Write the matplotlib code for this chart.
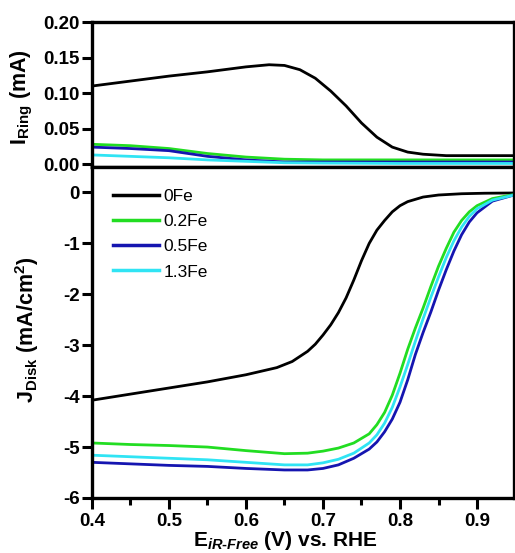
import matplotlib
matplotlib.use("Agg")
import matplotlib.pyplot as plt
from matplotlib.ticker import MultipleLocator

plt.rcParams['font.family'] = ['Liberation Sans', 'DejaVu Sans']
plt.rcParams['font.weight'] = 'bold'
plt.rcParams['axes.unicode_minus'] = False
plt.rcParams['mathtext.fontset'] = 'custom'
plt.rcParams['mathtext.rm'] = 'Liberation Sans:bold'
plt.rcParams['mathtext.bf'] = 'Liberation Sans:bold'
plt.rcParams['mathtext.it'] = 'Liberation Sans:bold:italic'
plt.rcParams['mathtext.default'] = 'rm'

# ring current (mA)
ring_x_0fe = [0.40, 0.45, 0.50, 0.55, 0.60, 0.63, 0.65, 0.67, 0.69, 0.71, 0.73,
              0.75, 0.77, 0.79, 0.81, 0.83, 0.86, 0.90, 0.948]
ring_0fe = [0.110, 0.117, 0.124, 0.130, 0.137, 0.140, 0.139, 0.133, 0.121, 0.103,
            0.082, 0.058, 0.038, 0.024, 0.017, 0.014, 0.012, 0.012, 0.012]
ring_x_fe = [0.40, 0.45, 0.50, 0.55, 0.60, 0.65, 0.70, 0.80, 0.948]
ring_02fe = [0.028, 0.026, 0.022, 0.015, 0.010, 0.007, 0.006, 0.006, 0.006]
ring_05fe = [0.024, 0.022, 0.019, 0.011, 0.006, 0.003, 0.003, 0.003, 0.003]
ring_13fe = [0.013, 0.011, 0.009, 0.006, 0.004, 0.002, 0.0015, 0.001, 0.001]

# disk current density (mA/cm2)
disk_x_0fe = [0.40, 0.45, 0.50, 0.55, 0.60, 0.64, 0.66, 0.68, 0.69, 0.70, 0.71,
              0.72, 0.73, 0.74, 0.75, 0.76, 0.77, 0.78, 0.79, 0.80, 0.81, 0.83,
              0.85, 0.88, 0.91, 0.948]
disk_0fe = [-4.08, -3.96, -3.84, -3.72, -3.58, -3.44, -3.32, -3.12, -2.98, -2.80,
            -2.60, -2.36, -2.07, -1.72, -1.34, -1.00, -0.74, -0.55, -0.38, -0.26,
            -0.18, -0.09, -0.05, -0.025, -0.015, -0.01]
disk_x_fe = [0.40, 0.45, 0.50, 0.55, 0.60, 0.65, 0.68, 0.70, 0.72, 0.74, 0.76,
             0.77, 0.78, 0.79, 0.80, 0.81, 0.82, 0.83, 0.84, 0.85, 0.86, 0.87,
             0.88, 0.89, 0.90, 0.92, 0.948]
disk_02fe = [-4.92, -4.95, -4.97, -5.00, -5.07, -5.13, -5.12, -5.08, -5.02, -4.92,
             -4.74, -4.56, -4.32, -3.98, -3.55, -3.08, -2.66, -2.27, -1.85, -1.45,
             -1.10, -0.78, -0.55, -0.38, -0.26, -0.12, -0.04]
disk_05fe = [-5.30, -5.33, -5.36, -5.38, -5.42, -5.45, -5.45, -5.42, -5.35, -5.22,
             -5.04, -4.90, -4.70, -4.45, -4.12, -3.68, -3.18, -2.75, -2.35, -1.92,
             -1.52, -1.15, -0.83, -0.58, -0.40, -0.17, -0.05]
disk_13fe = [-5.16, -5.19, -5.22, -5.25, -5.30, -5.35, -5.35, -5.31, -5.24, -5.12,
             -4.92, -4.76, -4.53, -4.22, -3.82, -3.38, -2.92, -2.48, -2.06, -1.66,
             -1.28, -0.95, -0.68, -0.47, -0.32, -0.15, -0.05]

labels = ['0Fe', '0.2Fe', '0.5Fe', '1.3Fe']
colors = ['black', '#22dd22', '#1515b0', '#30e4f4']

fig = plt.figure(figsize=(5.15, 5.53), dpi=100)
ax1 = fig.add_axes([0.1786, 0.698, 0.8194, 0.262])
ax2 = fig.add_axes([0.1786, 0.0995, 0.8194, 0.5985])

lw = 2.0
ax1.plot(ring_x_0fe, ring_0fe, color=colors[0], lw=lw)
ax1.plot(ring_x_fe, ring_02fe, color=colors[1], lw=lw)
ax1.plot(ring_x_fe, ring_05fe, color=colors[2], lw=lw)
ax1.plot(ring_x_fe, ring_13fe, color=colors[3], lw=lw)

ax2.plot(disk_x_0fe, disk_0fe, color=colors[0], lw=lw, label=labels[0])
ax2.plot(disk_x_fe, disk_02fe, color=colors[1], lw=lw, label=labels[1])
ax2.plot(disk_x_fe, disk_05fe, color=colors[2], lw=lw, label=labels[2])
ax2.plot(disk_x_fe, disk_13fe, color=colors[3], lw=lw, label=labels[3])

tick_fs = 13.5
for ax in (ax1, ax2):
    ax.set_xlim(0.4, 0.948)
    for s in ax.spines.values():
        s.set_linewidth(2.4)
    ax.tick_params(axis='y', direction='out', length=7, width=2.2, labelsize=tick_fs, pad=2)

ax1.set_ylim(-0.004, 0.2)
ax1.set_yticks([0, 0.05, 0.10, 0.15, 0.20], ['0.00', '0.05', '0.10', '0.15', '0.20'])
ax1.tick_params(axis='x', bottom=False, labelbottom=False)

ax2.set_ylim(-6, 0.5)
ax2.set_yticks([0, -1, -2, -3, -4, -5, -6])
ax2.xaxis.set_minor_locator(MultipleLocator(0.05))
ax2.set_xticks([0.4, 0.5, 0.6, 0.7, 0.8, 0.9], ['0.4', '0.5', '0.6', '0.7', '0.8', '0.9'])
ax2.tick_params(axis='x', which='major', direction='out', length=8, width=2.2,
                labelsize=tick_fs, pad=3)
ax2.tick_params(axis='x', which='minor', direction='out', length=5, width=2.2)

leg = ax2.legend(loc='upper left', bbox_to_anchor=(0.02, 0.971), frameon=False,
                 prop={'size': 12.5, 'weight': 'normal'}, handlelength=2.7,
                 handletextpad=0.25, labelspacing=0.58, borderaxespad=0.3)
for line in leg.get_lines():
    line.set_linewidth(2.5)

fig.text(22 / 515, 1 - 97 / 553, r'I$_{Ring}$ (mA)', rotation=90, ha='center',
         va='center', fontsize=15.5, fontweight='bold')
fig.text(27 / 515, 1 - 330 / 553, r'J$_{Disk}$ (mA/cm$^{2}$)', rotation=90,
         ha='center', va='center', fontsize=15.5, fontweight='bold')
fig.text(285 / 515, 1 - 541 / 553, r'E$_{\mathit{iR\text{-}Free}}$ (V) vs. RHE',
         ha='center', va='center', fontsize=15, fontweight='bold')

fig.savefig('out.png', dpi=100)
